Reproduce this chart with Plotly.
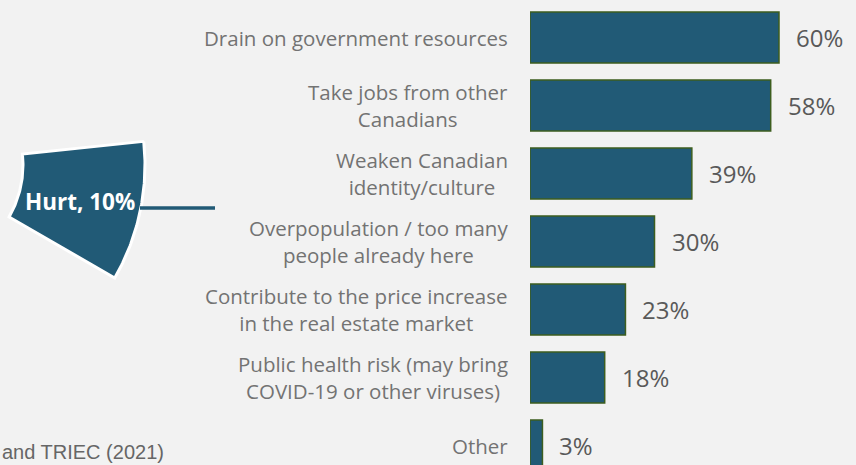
import math
import plotly.graph_objects as go

categories = [
    "Drain on government resources",
    "Take jobs from other<br>Canadians",
    "Weaken Canadian<br>identity/culture",
    "Overpopulation / too many<br>people already here",
    "Contribute to the price increase<br>in the real estate market",
    "Public health risk (may bring<br>COVID-19 or other viruses)",
    "Other",
]
values = [60, 58, 39, 30, 23, 18, 3]
value_labels = ["60%", "58%", "39%", "30%", "23%", "18%", "3%"]

slice_label = "Hurt, 10%"
slice_value = 10
footnote = "and TRIEC (2021)"

W, H = 856, 465
BG = "#f2f2f2"
BAR = "#215a76"
EDGE = "#3d5e1f"
FONT = "'Open Sans', sans-serif"

fig = go.Figure()

fig.add_trace(go.Bar(
    y=categories, x=values, orientation="h",
    marker=dict(color=BAR, line=dict(color=EDGE, width=1.5)),
    width=0.75, xaxis="x", yaxis="y", showlegend=False, hoverinfo="skip",
))

# donut slice (only visible part of a pie) drawn on a pixel-scaled second subplot
cx, cy, R, r = -81, 165, 226, 104
a0 = -6.0
a1 = a0 + 360 * slice_value / 100
n = 60
xs, ys = [], []
for i in range(n + 1):
    t = math.radians(a0 + (a1 - a0) * i / n)
    xs.append(cx + R * math.cos(t)); ys.append(cy + R * math.sin(t))
for i in range(n + 1):
    t = math.radians(a1 - (a1 - a0) * i / n)
    xs.append(cx + r * math.cos(t)); ys.append(cy + r * math.sin(t))
xs.append(xs[0]); ys.append(ys[0])
fig.add_trace(go.Scatter(
    x=xs, y=ys, mode="lines", fill="toself", fillcolor=BAR,
    line=dict(color="white", width=3), xaxis="x2", yaxis="y2",
    showlegend=False, hoverinfo="skip",
))
fig.add_trace(go.Scatter(
    x=[140, 215], y=[208, 208], mode="lines",
    line=dict(color=BAR, width=3.5), xaxis="x2", yaxis="y2",
    showlegend=False, hoverinfo="skip",
))

annotations = []
for c, v, lab in zip(categories, values, value_labels):
    annotations.append(dict(
        x=0, y=c, xref="x", yref="y", text=c, showarrow=False,
        xanchor="right", yanchor="middle", align="center", xshift=-20,
        font=dict(family=FONT, size=20.5, color="#737373"),
    ))
    annotations.append(dict(
        x=v, y=c, xref="x", yref="y", text=lab, showarrow=False,
        xanchor="left", yanchor="middle", xshift=15,
        font=dict(family=FONT, size=24, color="#595959"),
    ))
annotations.append(dict(
    x=80, y=201, xref="x2", yref="y2", text="<b>" + slice_label + "</b>",
    showarrow=False, xanchor="center", yanchor="middle",
    font=dict(family=FONT, size=22.5, color="white"),
))
annotations.append(dict(
    x=0, y=1 - 452 / H, xref="paper", yref="paper", text=footnote,
    showarrow=False, xanchor="left", yanchor="middle",
    font=dict(family="'Liberation Sans', Arial, sans-serif", size=20,
              color="#666666"),
))

pitch = 68.0
c0 = 37.5
fig.update_layout(
    width=W, height=H, paper_bgcolor=BG, plot_bgcolor="rgba(0,0,0,0)",
    margin=dict(l=0, r=0, t=0, b=0),
    xaxis=dict(domain=[530 / W, 1], range=[0, (W - 530) / 4.15],
               visible=False, fixedrange=True, anchor="y"),
    yaxis=dict(domain=[0, 1], type="category",
               range=[(-c0 + H) / pitch, -c0 / pitch],
               visible=False, fixedrange=True, anchor="x"),
    xaxis2=dict(domain=[0, 1], range=[0, W], visible=False, anchor="y2",
                fixedrange=True),
    yaxis2=dict(domain=[0, 1], range=[H, 0], visible=False, anchor="x2",
                fixedrange=True),
    annotations=annotations,
    font=dict(family=FONT),
)

fig.write_html("out.html")
